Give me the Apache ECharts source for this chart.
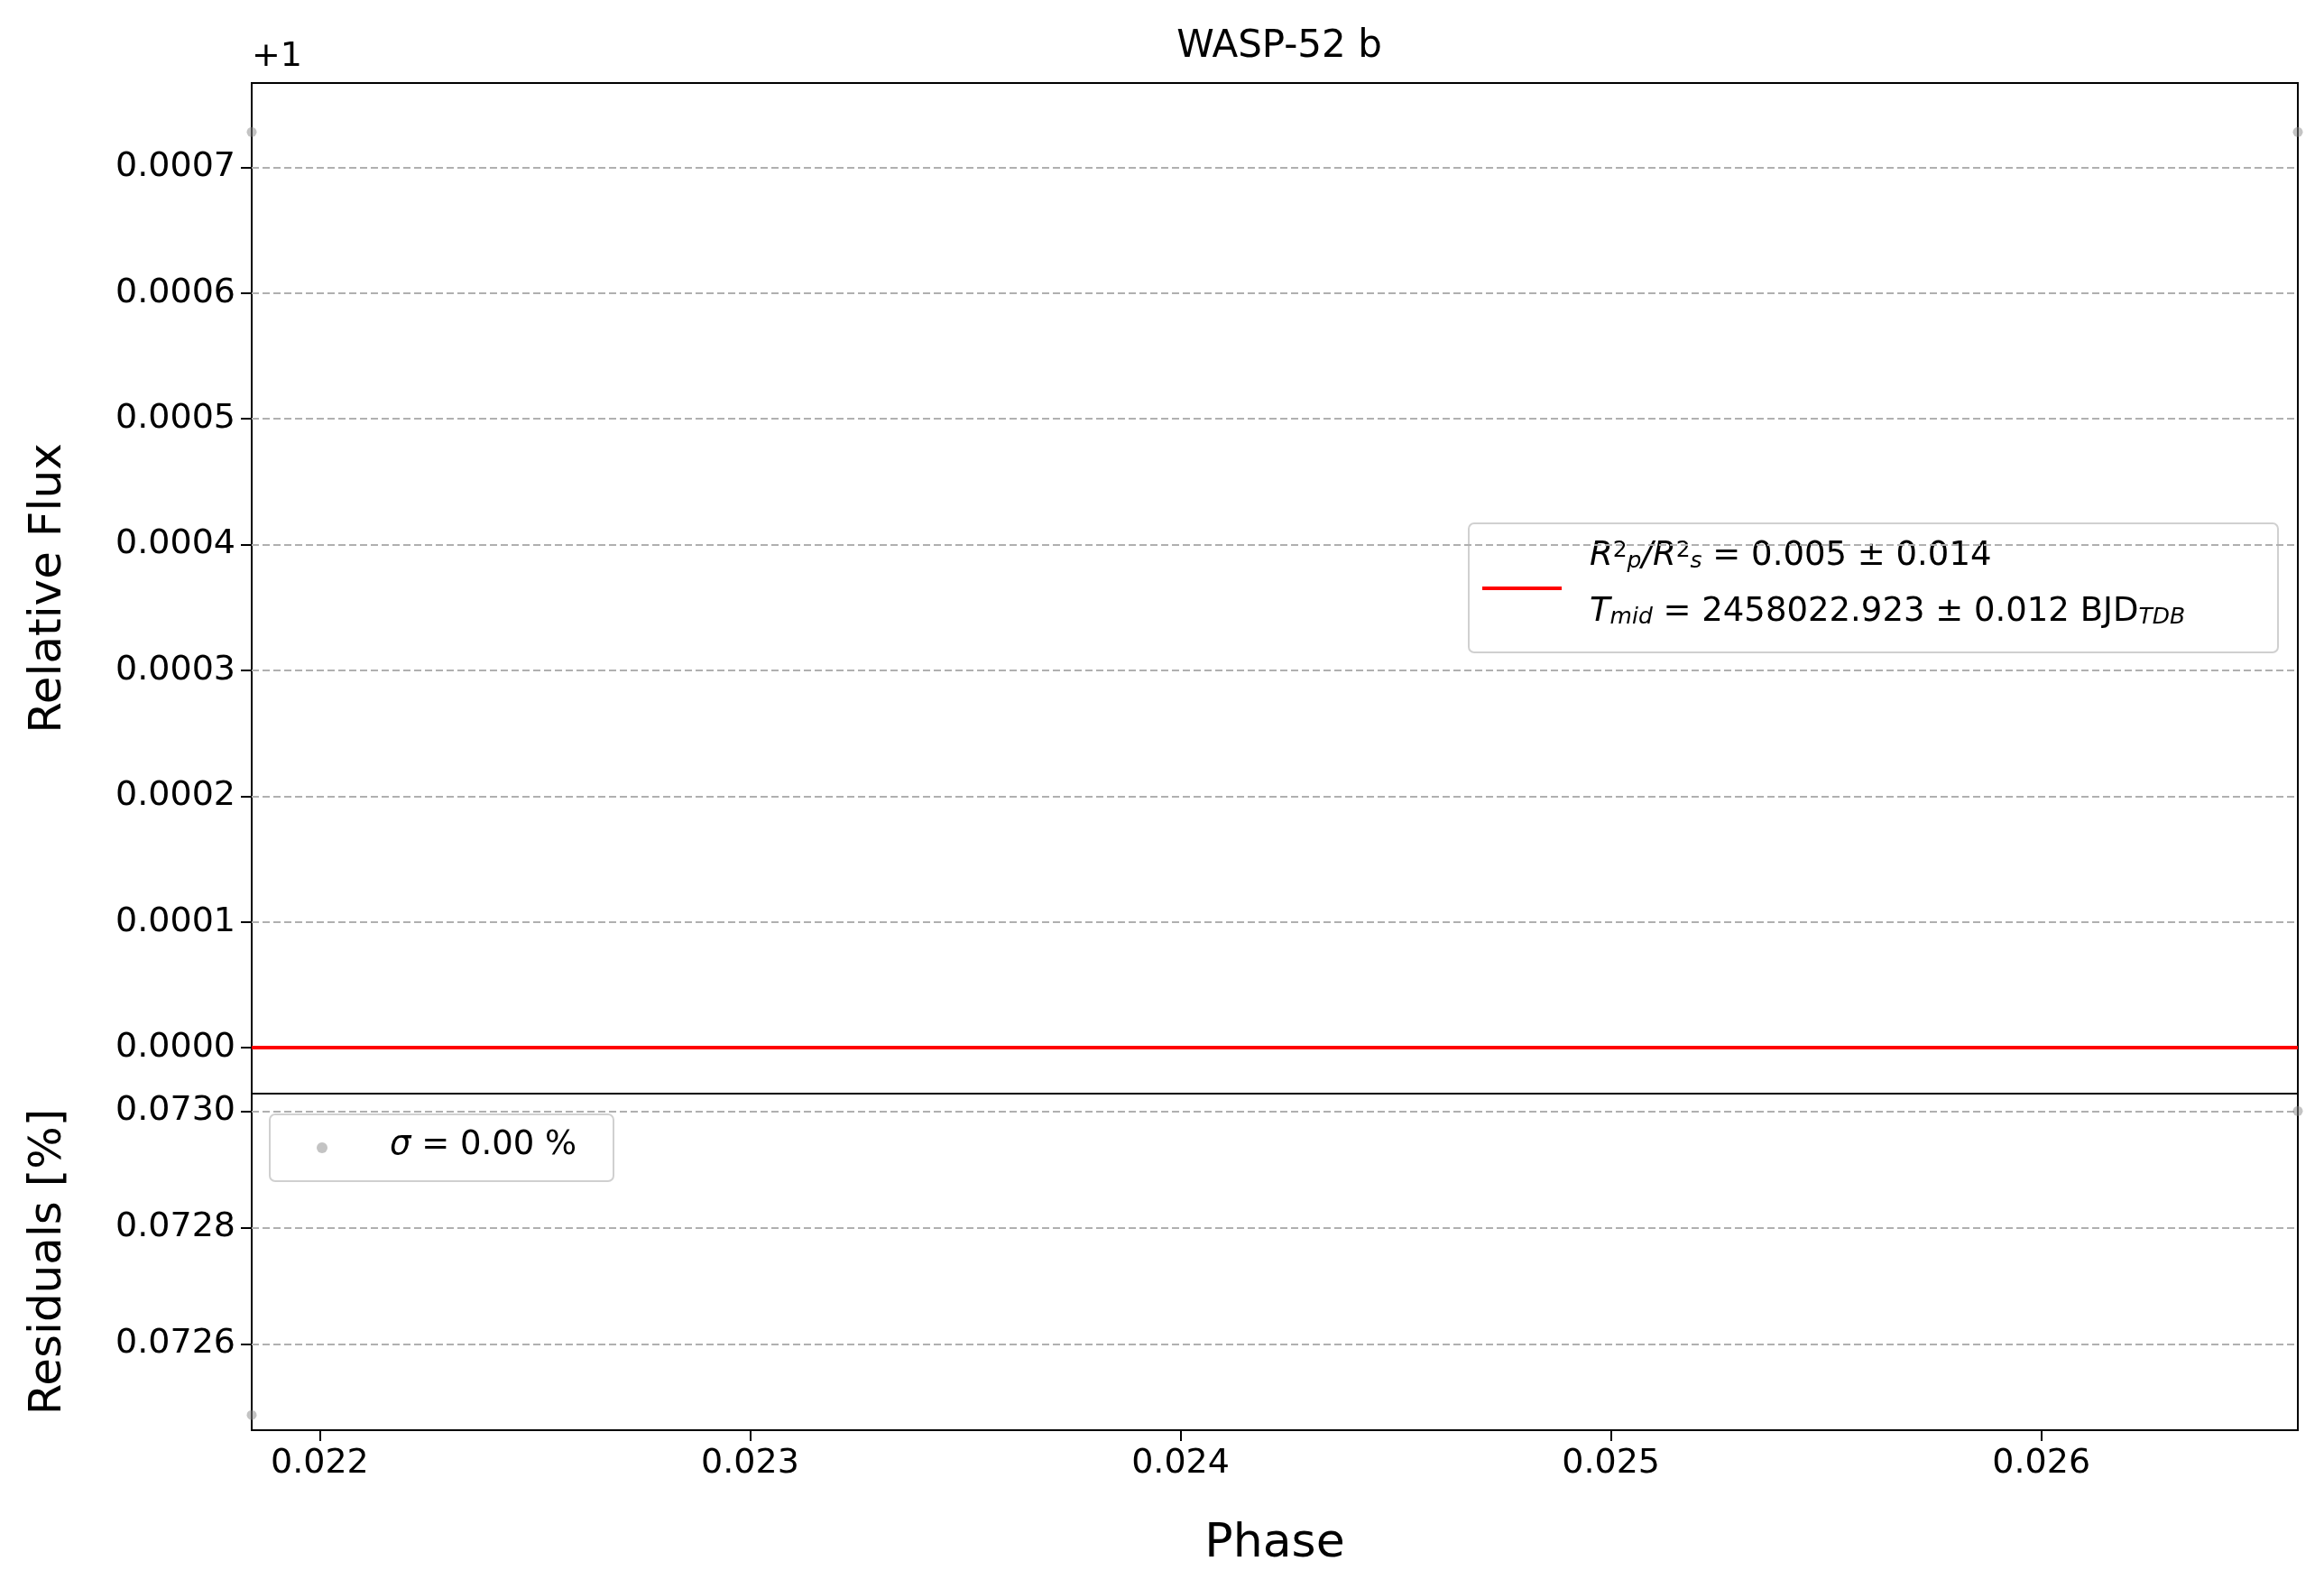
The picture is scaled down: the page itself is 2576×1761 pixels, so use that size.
<!DOCTYPE html>
<html><head><meta charset="utf-8">
<script src="https://cdn.jsdelivr.net/npm/echarts@6/dist/echarts.min.js"></script>
<style>html,body{margin:0;padding:0;background:#fff}#c{width:2576px;height:1761px}</style>
</head><body><div id="c"></div>
<script>
const xTicks=[0.022,0.023,0.024,0.025,0.026];
const fluxTicks=[0,0.0001,0.0002,0.0003,0.0004,0.0005,0.0006,0.0007];
const resTicks=[0.0726,0.0728,0.0730];
const dataPhase=[0.021842,0.026596];
const dataFlux=[0.000728,0.000728];
const modelPhase=[0.021842,0.026596];
const modelFlux=[0,0];
const resVals=[0.072478,0.07300];
const F='DejaVu Sans';
const chart=echarts.init(document.getElementById('c'));
const xMin=0.021842,xMax=0.026596;
function xAxis(i,show){return {gridIndex:i,type:'value',min:xMin,max:xMax,
 axisLine:{show:false},
 axisTick:{show:show,customValues:xTicks,length:12,lineStyle:{color:'#000',width:2}},
 axisLabel:{show:show,customValues:xTicks,formatter:v=>v.toFixed(3),fontFamily:F,fontSize:38,color:'#000',margin:18},
 splitLine:{show:false},
 name:show?'Phase':'',nameLocation:'middle',nameGap:100,nameTextStyle:{fontFamily:F,fontSize:52,color:'#000'}};}
const opt={animation:false,
 title:{text:'WASP-52 b',left:1413,top:26,textAlign:'center',textStyle:{fontFamily:F,fontSize:42,fontWeight:'normal',color:'#000'}},
 grid:[{left:279,top:92,width:2268,height:1120,show:true,borderColor:'#000',borderWidth:2},
       {left:279,top:1212,width:2268,height:373,show:true,borderColor:'#000',borderWidth:2}],
 xAxis:[xAxis(0,false),xAxis(1,true)],
 yAxis:[{gridIndex:0,type:'value',min:-0.0000365,max:0.000767,axisLine:{show:false},
   axisTick:{show:true,customValues:fluxTicks,length:12,lineStyle:{color:'#000',width:2}},
   axisLabel:{customValues:fluxTicks,formatter:v=>v.toFixed(4),fontFamily:F,fontSize:38,color:'#000',margin:18},
   splitLine:{show:true,lineStyle:{color:'#b0b0b0',type:[8,4],width:2}},
   name:'Relative Flux',nameLocation:'middle',nameGap:200,nameTextStyle:{fontFamily:F,fontSize:50,color:'#000'}},
  {gridIndex:1,type:'value',min:0.072452,max:0.07303,axisLine:{show:false},
   axisTick:{show:true,customValues:resTicks,length:12,lineStyle:{color:'#000',width:2}},
   axisLabel:{customValues:resTicks,formatter:v=>v.toFixed(4),fontFamily:F,fontSize:38,color:'#000',margin:18},
   splitLine:{show:true,lineStyle:{color:'#b0b0b0',type:[8,4],width:2}},
   name:'Residuals [%]',nameLocation:'middle',nameGap:200,nameTextStyle:{fontFamily:F,fontSize:50,color:'#000'}}],
 series:[
  {type:'scatter',xAxisIndex:0,yAxisIndex:0,data:dataPhase.map((x,i)=>[x,dataFlux[i]]),symbolSize:11,itemStyle:{color:'#888',opacity:0.5},clip:false},
  {type:'line',xAxisIndex:0,yAxisIndex:0,data:modelPhase.map((x,i)=>[x,modelFlux[i]]),showSymbol:false,lineStyle:{color:'#ff0000',width:4},z:5},
  {type:'scatter',xAxisIndex:1,yAxisIndex:1,data:dataPhase.map((x,i)=>[x,resVals[i]]),symbolSize:11,itemStyle:{color:'#888',opacity:0.5},clip:false}
 ],
 graphic:[
  {type:'text',left:279,top:44,style:{text:'+1',font:'38px "DejaVu Sans"',fill:'#000'}},
  {type:'rect',shape:{x:1628,y:580,width:897,height:143,r:6},style:{fill:'rgba(255,255,255,0.8)',stroke:'#d0d0d0',lineWidth:2}},
  {type:'line',shape:{x1:1643,y1:652,x2:1731,y2:652},style:{stroke:'#ff0000',lineWidth:4}},
  {type:'text',x:1762,y:598,style:{rich:{n:{fontFamily:F,fontSize:37,fontStyle:'italic'},t:{fontFamily:F,fontSize:37},s:{fontFamily:F,fontSize:25,fontStyle:'italic',verticalAlign:'bottom'},u:{fontFamily:F,fontSize:25,verticalAlign:'top'}},
     text:'{n|R}{u|2}{s|p}{n|/R}{u|2}{s|s}{t| = 0.005 ± 0.014}',fill:'#000'}},
  {type:'text',x:1762,y:660,style:{rich:{n:{fontFamily:F,fontSize:37,fontStyle:'italic'},t:{fontFamily:F,fontSize:37},s:{fontFamily:F,fontSize:25,fontStyle:'italic',verticalAlign:'bottom'}},
     text:'{n|T}{s|mid}{t| = 2458022.923 ± 0.012 BJD}{s|TDB}',fill:'#000'}},
  {type:'rect',shape:{x:299,y:1235,width:381,height:74,r:6},style:{fill:'rgba(255,255,255,0.8)',stroke:'#d0d0d0',lineWidth:2}},
  {type:'circle',shape:{cx:357,cy:1272,r:6},style:{fill:'rgba(136,136,136,0.5)'}},
  {type:'text',x:432,y:1251,style:{rich:{n:{fontFamily:F,fontSize:37,fontStyle:'italic'},t:{fontFamily:F,fontSize:37}},text:'{n|σ}{t| = 0.00 %}',fill:'#000'}}
 ]};
chart.setOption(opt);
</script></body></html>
